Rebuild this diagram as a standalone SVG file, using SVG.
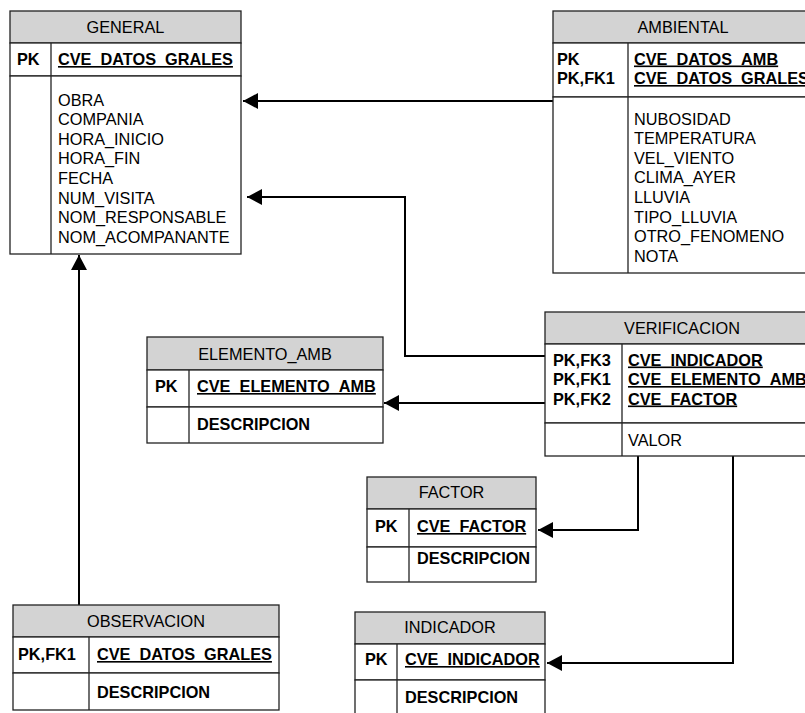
<svg xmlns="http://www.w3.org/2000/svg" width="805" height="713" viewBox="0 0 805 713">
<defs>
<style>
.hd{fill:#d3d3d3;stroke:#222;stroke-width:1.3}
.bx{fill:#fff;stroke:#222;stroke-width:1.3}
.ln{stroke:#222;stroke-width:1.3;fill:none}
text{font-family:"Liberation Sans",Arial,sans-serif;font-size:16.3px;fill:#000}
.t{text-anchor:middle}
.b{font-weight:bold}
.u{font-weight:bold;text-decoration:underline}
.c{stroke:#000;stroke-width:2;fill:none;marker-end:url(#ah)}
</style>
<marker id="ah" markerUnits="userSpaceOnUse" markerWidth="16" markerHeight="16" refX="15" refY="8" orient="auto">
<path d="M0,0 L15,8 L0,16 z" fill="#000"/>
</marker>
</defs>
<rect width="805" height="713" fill="#fff"/>

<g id="connectors">
<path class="c" d="M553,101 L243,101"/>
<path class="c" d="M545,356 L405,356 L405,197 L247,197"/>
<path class="c" d="M545,403 L384,403"/>
<path class="c" d="M638,456 L638,530 L538,530"/>
<path class="c" d="M733,456 L733,663 L547,663"/>
<path class="c" d="M79,605 L79,255"/>
</g>

<g id="general">
<rect class="hd" x="10" y="11" width="231" height="32"/>
<rect class="bx" x="10" y="43" width="231" height="33"/>
<rect class="bx" x="10" y="76" width="231" height="178"/>
<line class="ln" x1="51" y1="43" x2="51" y2="254"/>
<text class="t" x="125.5" y="33">GENERAL</text>
<text class="b" x="17" y="65">PK</text>
<text class="u" x="58" y="65">CVE_DATOS_GRALES</text>
<text x="58" y="105.5">OBRA</text>
<text x="58" y="125.1">COMPANIA</text>
<text x="58" y="144.7">HORA_INICIO</text>
<text x="58" y="164.3">HORA_FIN</text>
<text x="58" y="183.9">FECHA</text>
<text x="58" y="203.5">NUM_VISITA</text>
<text x="58" y="223.1">NOM_RESPONSABLE</text>
<text x="58" y="242.7">NOM_ACOMPANANTE</text>
</g>

<g id="ambiental">
<rect class="hd" x="553" y="11" width="260" height="32"/>
<rect class="bx" x="553" y="43" width="260" height="54"/>
<rect class="bx" x="553" y="97" width="260" height="176"/>
<line class="ln" x1="628" y1="43" x2="628" y2="273"/>
<text class="t" x="683" y="33">AMBIENTAL</text>
<text class="b" x="557" y="64.5">PK</text>
<text class="b" x="557" y="84">PK,FK1</text>
<text class="u" x="634" y="64.5">CVE_DATOS_AMB</text>
<text class="u" x="634" y="84">CVE_DATOS_GRALES</text>
<text x="634" y="124.5">NUBOSIDAD</text>
<text x="634" y="144.1">TEMPERATURA</text>
<text x="634" y="163.7">VEL_VIENTO</text>
<text x="634" y="183.3">CLIMA_AYER</text>
<text x="634" y="202.9">LLUVIA</text>
<text x="634" y="222.5">TIPO_LLUVIA</text>
<text x="634" y="242.1">OTRO_FENOMENO</text>
<text x="634" y="261.7">NOTA</text>
</g>

<g id="verificacion">
<rect class="hd" x="545" y="312" width="274" height="32"/>
<rect class="bx" x="545" y="344" width="274" height="79"/>
<rect class="bx" x="545" y="423" width="274" height="33"/>
<line class="ln" x1="622" y1="344" x2="622" y2="456"/>
<text class="t" x="682" y="334">VERIFICACION</text>
<text class="b" x="553" y="365.5">PK,FK3</text>
<text class="b" x="553" y="385">PK,FK1</text>
<text class="b" x="553" y="404.5">PK,FK2</text>
<text class="u" x="628" y="365.5">CVE_INDICADOR</text>
<text class="u" x="628" y="385">CVE_ELEMENTO_AMB</text>
<text class="u" x="628" y="404.5">CVE_FACTOR</text>
<text x="628" y="445.5">VALOR</text>
</g>

<g id="elemento_amb">
<rect class="hd" x="147" y="337" width="236" height="33"/>
<rect class="bx" x="147" y="370" width="236" height="37"/>
<rect class="bx" x="147" y="407" width="236" height="36"/>
<line class="ln" x1="189" y1="370" x2="189" y2="443"/>
<text class="t" x="265" y="360">ELEMENTO_AMB</text>
<text class="b" x="155" y="392">PK</text>
<text class="u" x="197" y="392">CVE_ELEMENTO_AMB</text>
<text class="b" x="197" y="430">DESCRIPCION</text>
</g>

<g id="factor">
<rect class="hd" x="367" y="477" width="169" height="32"/>
<rect class="bx" x="367" y="509" width="169" height="38"/>
<rect class="bx" x="367" y="547" width="169" height="35"/>
<line class="ln" x1="409" y1="509" x2="409" y2="582"/>
<text class="t" x="451.5" y="498">FACTOR</text>
<text class="b" x="375" y="532">PK</text>
<text class="u" x="417" y="532">CVE_FACTOR</text>
<text class="b" x="417" y="564">DESCRIPCION</text>
</g>

<g id="indicador">
<rect class="hd" x="355" y="612" width="190" height="32"/>
<rect class="bx" x="355" y="644" width="190" height="36"/>
<rect class="bx" x="355" y="680" width="190" height="45"/>
<line class="ln" x1="397" y1="644" x2="397" y2="725"/>
<text class="t" x="450" y="633">INDICADOR</text>
<text class="b" x="365" y="665">PK</text>
<text class="u" x="405" y="665">CVE_INDICADOR</text>
<text class="b" x="405" y="703">DESCRIPCION</text>
</g>

<g id="observacion">
<rect class="hd" x="13" y="605" width="266" height="32"/>
<rect class="bx" x="13" y="637" width="266" height="36"/>
<rect class="bx" x="13" y="673" width="266" height="37"/>
<line class="ln" x1="89" y1="637" x2="89" y2="710"/>
<text class="t" x="146" y="627">OBSERVACION</text>
<text class="b" x="18" y="660">PK,FK1</text>
<text class="u" x="97" y="660">CVE_DATOS_GRALES</text>
<text class="b" x="97" y="698">DESCRIPCION</text>
</g>
</svg>
